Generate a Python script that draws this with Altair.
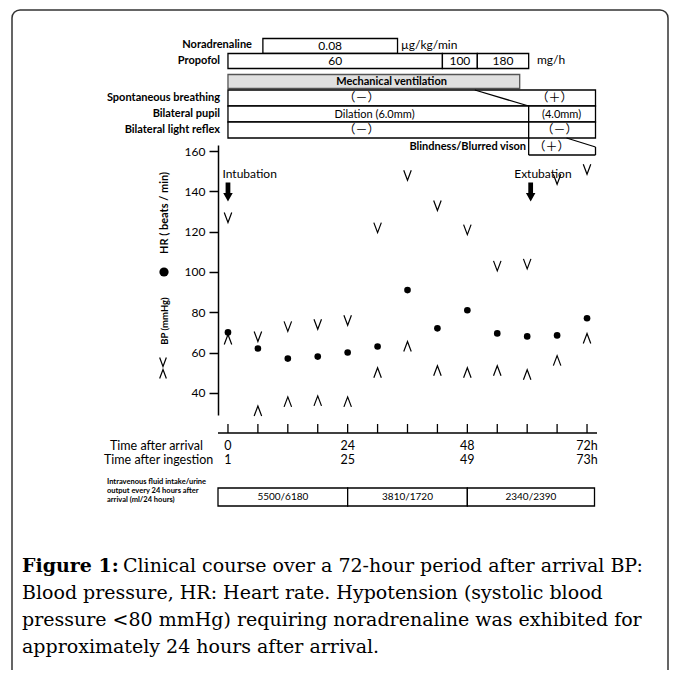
import altair as alt
import pandas as pd

# ---------------- data ----------------
hours = [0, 6, 12, 18, 24, 30, 36, 42, 48, 54, 60, 66, 72]
sbp = [127, 68, 73, 74, 76, 122, 148, 133, 121, 103, 104, 146, 151]
dbp = [66.5, 31, 35.5, 36, 35.5, 50, 63, 51, 50, 51, 49, 56, 67]
hr = [70, 62, 57, 58, 60, 63, 91, 72, 81, 69.5, 68, 68.5, 77]
y_ticks = [40, 60, 80, 100, 120, 140, 160]

tick_hours = [0, 6, 12, 18, 24, 30, 36, 42, 48, 54, 60, 66, 72]
label_hours = [0, 24, 48, 72]
arrival_labels = ["0", "24", "48", "72h"]
ingestion_labels = ["1", "25", "49", "73h"]

nor_start, nor_end, nor_label = [7], [34], ["0.08"]
prop_start = [0, 43, 50]
prop_end = [43, 50, 60.3]
prop_label = ["60", "100", "180"]
vent_start, vent_end = [0], [58.5]
vent_label_hour = [32.8]
row_end = 73.7
change_hour = 60.3
breath_diag = [49.5, 60.3]
breath_label_hours = [26.8, 65.5]
breath_labels = ["（－）", "（＋）"]
pupil_label_hours = [29.4, 66.9]
pupil_labels = ["Dilation (6.0mm)", "(4.0mm)"]
reflex_label_hours = [26.8, 66.5]
reflex_labels = ["（－）", "（－）"]
blind_label_hour = [64.9]
blind_labels = ["（＋）"]
blind_diag = [67.9, 73.7]

event_hours = [0, 60.7]
event_labels = ["Intubation", "Extubation"]
event_label_hours = [-1.1, 57.4]

fluid_start = [-2, 24, 48]
fluid_end = [24, 48, 73.5]
fluid_labels = ["5500/6180", "3810/1720", "2340/2390"]

caption_lines = [
    "Clinical course over a 72-hour period after arrival BP:",
    "Blood pressure, HR: Heart rate. Hypotension (systolic blood",
    "pressure <80 mmHg) requiring noradrenaline was exhibited for",
    "approximately 24 hours after arrival.",
]

# ---------------- layout helpers ----------------
X0, Y0 = 218, 145  # page position of plot origin
W, H = 379, 270


def px(x):
    return x - X0


def py(y):
    return y - Y0


xs = alt.Scale(domain=[-2, 74], nice=False, zero=False)
ys = alt.Scale(domain=[29, 163], nice=False, zero=False)
yaxis = alt.Axis(values=y_ticks, title=None, grid=False, tickSize=9, labelPadding=4,
                 domainColor="black", tickColor="black", domainWidth=1.5, tickWidth=1.5,
                 labelFont="Lato", labelFontSize=12, labelColor="black")
FONT = "Lato"


def XH(field="h"):
    return alt.X(f"{field}:Q", scale=xs, axis=None)


def label(text, x, y, size, weight="normal", align="left", font=FONT, angle=0):
    return alt.Chart(pd.DataFrame({"t": [text]})).mark_text(
        align=align, baseline="middle", font=font, fontSize=size, fontWeight=weight,
        color="black", angle=angle
    ).encode(x=alt.value(px(x)), y=alt.value(py(y)), text="t:N")


def hour_text(hs, texts, y, size, weight="normal", font=FONT, align="center"):
    return alt.Chart(pd.DataFrame({"h": hs, "t": texts})).mark_text(
        align=align, baseline="middle", font=font, fontSize=size, fontWeight=weight, color="black"
    ).encode(x=XH(), y=alt.value(py(y)), text="t:N")


def boxes(starts, ends, top, bottom, fill="white", stroke="black"):
    return alt.Chart(pd.DataFrame({"a": starts, "b": ends})).mark_rect(
        fill=fill, stroke=stroke, strokeWidth=1.3
    ).encode(x=XH("a"), x2="b:Q", y=alt.value(py(top)), y2=alt.value(py(bottom)))


def seg(h1, h2, y1, y2):
    return alt.Chart(pd.DataFrame({"a": [h1], "b": [h2]})).mark_rule(
        color="black", strokeWidth=1.3
    ).encode(x=XH("a"), x2="b:Q", y=alt.value(py(y1)), y2=alt.value(py(y2)))


V_SHAPE = "M-0.75,-1L0,1L0.75,-1"
A_SHAPE = "M-0.75,1L0,-1L0.75,1"
ARROW = "M-0.25,-1L0.25,-1L0.25,0.1L0.5,0.1L0,1L-0.5,0.1L-0.25,0.1Z"

layers = []

# border
layers.append(alt.Chart(pd.DataFrame({"t": [0]})).mark_rect(
    fill=None, stroke="#333333", strokeWidth=1.5, cornerRadius=8
).encode(x=alt.value(px(12)), x2=alt.value(px(668)), y=alt.value(py(10)), y2=alt.value(py(720))))

# scatter
df_s = pd.DataFrame({"h": hours, "v": sbp})
df_d = pd.DataFrame({"h": hours, "v": dbp})
df_hr = pd.DataFrame({"h": hours, "v": hr})
layers.append(alt.Chart(df_s).mark_point(shape=V_SHAPE, filled=False, stroke="black",
                                         strokeWidth=1.2, size=100, opacity=1)
              .encode(x=XH(), y=alt.Y("v:Q", scale=ys, axis=yaxis)))
layers.append(alt.Chart(df_d).mark_point(shape=A_SHAPE, filled=False, stroke="black",
                                         strokeWidth=1.2, size=100, opacity=1)
              .encode(x=XH(), y=alt.Y("v:Q", scale=ys, axis=yaxis)))
layers.append(alt.Chart(df_hr).mark_circle(color="black", size=44, opacity=1)
              .encode(x=XH(), y=alt.Y("v:Q", scale=ys, axis=yaxis)))

# y legend (rotated)
layers.append(label("HR ( beats / min)", 165, 213, 11, "bold", "center", angle=270))
layers.append(alt.Chart(pd.DataFrame({"t": [0]})).mark_circle(color="black", size=85, opacity=1)
              .encode(x=alt.value(px(164)), y=alt.value(py(272))))
layers.append(label("BP (mmHg)", 165, 321, 9.5, "bold", "center", angle=270))
layers.append(alt.Chart(pd.DataFrame({"t": [0]})).mark_point(shape=V_SHAPE, filled=False, stroke="black",
                                                            strokeWidth=1.2, size=80, opacity=1)
              .encode(x=alt.value(px(163)), y=alt.value(py(362))))
layers.append(alt.Chart(pd.DataFrame({"t": [0]})).mark_point(shape=A_SHAPE, filled=False, stroke="black",
                                                            strokeWidth=1.2, size=80, opacity=1)
              .encode(x=alt.value(px(163)), y=alt.value(py(374))))

# events
layers.append(alt.Chart(pd.DataFrame({"h": event_hours})).mark_point(
    shape=ARROW, filled=True, color="black", size=361, opacity=1
).encode(x=XH(), y=alt.value(py(192))))
layers.append(hour_text(event_label_hours, event_labels, 174, 12, align="left"))

# top table
layers.append(label("Noradrenaline", 252, 45, 11, "bold", "right"))
layers.append(boxes(nor_start, nor_end, 38.5, 53.5))
layers.append(hour_text([(a + b) / 2 for a, b in zip(nor_start, nor_end)], nor_label, 46, 12))
layers.append(label("µg/kg/min", 401, 45, 12))

layers.append(label("Propofol", 220, 61, 11, "bold", "right"))
layers.append(boxes(prop_start, prop_end, 53.5, 68.5))
layers.append(hour_text([(a + b) / 2 for a, b in zip(prop_start, prop_end)], prop_label, 61, 12))
layers.append(label("mg/h", 537, 60, 12))

layers.append(boxes(vent_start, vent_end, 74.5, 88.5, fill="#e0e0e0", stroke="#555555"))
layers.append(hour_text(vent_label_hour, ["Mechanical ventilation"], 81.5, 11, "bold"))

layers.append(label("Spontaneous breathing", 220, 98, 11, "bold", "right"))
layers.append(boxes([0], [row_end], 90, 106))
layers.append(seg(breath_diag[0], breath_diag[1], 90, 106))
layers.append(hour_text(breath_label_hours, breath_labels, 98, 12, font="Noto Sans CJK JP"))

layers.append(label("Bilateral pupil", 220, 114, 11, "bold", "right"))
layers.append(boxes([0, change_hour], [change_hour, row_end], 106, 122))
layers.append(hour_text(pupil_label_hours, pupil_labels, 114.5, 11))

layers.append(label("Bilateral light reflex", 220, 130, 11, "bold", "right"))
layers.append(boxes([0, change_hour], [change_hour, row_end], 122, 138))
layers.append(hour_text(reflex_label_hours, reflex_labels, 130, 12, font="Noto Sans CJK JP"))

layers.append(label("Blindness/Blurred vison", 526, 147, 11, "bold", "right"))
layers.append(seg(change_hour, change_hour, 138, 155))
layers.append(seg(change_hour, row_end, 155, 155))
layers.append(seg(row_end, row_end, 147, 155))
layers.append(seg(blind_diag[0], blind_diag[1], 138, 147))
layers.append(hour_text(blind_label_hour, blind_labels, 147, 12, font="Noto Sans CJK JP"))

# x axis (ticks pointing up)
layers.append(seg(-2, 74, 433, 433))
layers.append(alt.Chart(pd.DataFrame({"h": tick_hours})).mark_rule(color="black", strokeWidth=1.3)
              .encode(x=XH(), y=alt.value(py(424)), y2=alt.value(py(433))))
layers.append(label("Time after arrival", 110, 446, 12.5))
layers.append(label("Time after ingestion", 104, 460, 12.5))
layers.append(hour_text(label_hours, arrival_labels, 446, 12.5))
layers.append(hour_text(label_hours, ingestion_labels, 460, 12.5))

# fluid balance
layers.append(label("Intravenous fluid intake/urine", 107, 482, 7.5, "bold"))
layers.append(label("output every 24 hours after", 107, 491, 7.5, "bold"))
layers.append(label("arrival (ml/24 hours)", 107, 500, 7.5, "bold"))
layers.append(boxes(fluid_start, fluid_end, 488, 506))
layers.append(hour_text([(a + b) / 2 for a, b in zip(fluid_start, fluid_end)], fluid_labels, 497, 10))

# caption
CAP_FONT = "DejaVu Serif"
CAP_SIZE = 19
layers.append(label("Figure 1:", 22, 566, CAP_SIZE, "bold", font=CAP_FONT))
layers.append(label(caption_lines[0], 123, 566, CAP_SIZE, font=CAP_FONT))
for i, line in enumerate(caption_lines[1:]):
    layers.append(label(line, 22, 593 + 27 * i, CAP_SIZE, font=CAP_FONT))

chart = alt.layer(*layers).properties(
    width=W, height=H,
    padding={"left": 210, "top": 137, "right": 72, "bottom": 255},
    autosize=alt.AutoSizeParams(type="none"),
    background="white",
).configure_view(stroke=None)

chart.save("out.html", embed_options={"renderer": "svg", "actions": False})
